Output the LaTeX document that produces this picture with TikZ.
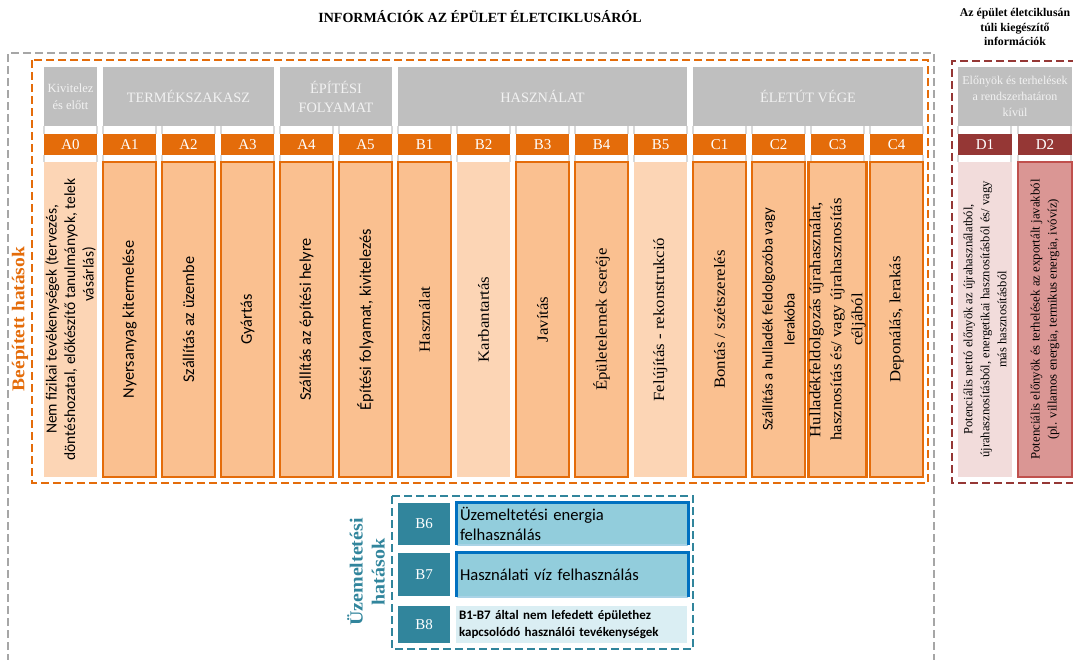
\documentclass[tikz,border=0pt]{standalone}
\usepackage{fontspec}
\setmainfont{Liberation Serif}
\newfontfamily\sansf{Carlito}
\newfontfamily\wideserif[FakeStretch=1.08]{Liberation Serif}
\definecolor{labor}{HTML}{E46C0A}
\definecolor{peachM}{HTML}{FAC090}
\definecolor{peachL}{HTML}{FCD5B5}
\definecolor{hdrgray}{HTML}{BFBFBF}
\definecolor{hdrtext}{HTML}{F2F2F2}
\definecolor{gridgray}{HTML}{D9D9D9}
\definecolor{maroon}{HTML}{953735}
\definecolor{roseL}{HTML}{F2DCDB}
\definecolor{roseM}{HTML}{DA9694}
\definecolor{roseB}{HTML}{C0504D}
\definecolor{tealD}{HTML}{31859C}
\definecolor{blueF}{HTML}{92CDDC}
\definecolor{blueB}{HTML}{0070C0}
\definecolor{blueEdge}{HTML}{A9D3E6}
\definecolor{blueL}{HTML}{DAEEF3}
\definecolor{dashgray}{HTML}{A6A6A6}
\begin{document}
\begin{tikzpicture}[x=1pt,y=-1pt,
  hdr/.style={fill=hdrgray, text=hdrtext, minimum height=59pt, inner sep=1pt, align=center},
  hdrbig/.style={hdr, font=\fontsize{14.3}{19}\selectfont},
  lab/.style={fill=labor, text=white, minimum width=53pt, minimum height=21pt, inner sep=0pt, font=\fontsize{15}{18}\selectfont},
  dlab/.style={lab, fill=maroon, minimum width=54pt},
  colbody/.style={rotate=90, minimum width=315pt, minimum height=53pt, inner sep=1pt, align=center},
  bodylight/.style={colbody, fill=peachL},
  bodyframed/.style={colbody, fill=peachM, draw=labor, line width=2.5pt},
  sanstxt/.style={font=\sansf\fontsize{16.3}{19}\selectfont},
  seriftxt/.style={font=\wideserif\fontsize{15.5}{21}\selectfont},
  frame/.style={dash pattern=on 8pt off 4pt, line width=2pt},
  gridtick/.style={gridgray, line width=1.2pt},
  oplab/.style={fill=tealD, text=white, minimum width=52pt, inner sep=0pt, font=\fontsize{15}{18}\selectfont},
  optext/.style={minimum width=231pt, text width=225pt, inner sep=3pt, align=left}
]
\useasboundingbox (0,0) rectangle (1073,659);

% titles
\node[font=\bfseries\fontsize{14}{17}\selectfont] (title) at (480,17) {INFORMÁCIÓK AZ ÉPÜLET ÉLETCIKLUSÁRÓL};
\node[font=\bfseries\fontsize{11.8}{14.5}\selectfont, align=center] (titleD) at (1015,27) {Az épület életciklusán\\túli kiegészítő\\információk};

% dashed frames
\draw[frame, dashgray, line width=1.6pt] (8,662) -- (8,53) -- (934,53) -- (934,662);
\draw[frame, labor] (32,60) rectangle (928,483);
\draw[frame, maroon] (1076,61) -- (952,61) -- (952,483) -- (1076,483);
\draw[frame, tealD] (392,496) rectangle (693,649);

% faint table grid between the rows
\foreach \xl in {44,103,162,221,280,339,398,457,516,575,634,693,752,811,870,958,1018} {
  \draw[gridtick] (\xl,126) -- (\xl,134) (\xl+53,126) -- (\xl+53,134);
  \draw[gridtick] (\xl,155) -- (\xl,162) (\xl+53,155) -- (\xl+53,162);
}

% side captions
\node[rotate=90, text=labor, font=\wideserif\bfseries\fontsize{18}{22}\selectfont] (capBuilt) at (20,319) {Beépített hatások};
\node[rotate=90, text=tealD, align=center, font=\wideserif\bfseries\fontsize{18.5}{22}\selectfont] (capOp) at (366,572) {Üzemeltetési\\hatások};

% stage headers
\node[hdr, minimum width=53pt, font=\fontsize{12.5}{17}\selectfont] (hA0) at (70.5,96.5) {Kivitelez\\és előtt};
\node[hdrbig, minimum width=171pt] (hProd) at (188.5,96.5) {TERMÉKSZAKASZ};
\node[hdrbig, minimum width=112pt] (hBuild) at (336,96.5) {ÉPÍTÉSI\\FOLYAMAT};
\node[hdrbig, minimum width=289pt] (hUse) at (542.5,96.5) {HASZNÁLAT};
\node[hdrbig, minimum width=230pt] (hEnd) at (808,96.5) {ÉLETÚT VÉGE};
\node[hdr, minimum width=114pt, font=\fontsize{12}{16}\selectfont] (hD) at (1015,96.5) {Előnyök és terhelések\\a rendszerhatáron\\kívül};

% module codes
\foreach \n [count=\i from 0] in {A0,A1,A2,A3,A4,A5,B1,B2,B3,B4,B5,C1,C2,C3,C4}
  \node[lab] (l\n) at ({70.5+59*\i},144.5) {\n};
\node[dlab] (lD1) at (985,144.5) {D1};
\node[dlab] (lD2) at (1045,144.5) {D2};

% module contents
\node[bodylight, font=\sansf\fontsize{15.5}{18.5}\selectfont] (bA0) at (70.5,319.5) {Nem fizikai tevékenységek (tervezés,\\döntéshozatal, előkészítő tanulmányok, telek\\\hspace*{90pt}vásárlás)};
\node[bodyframed, sanstxt] (bA1) at (129.5,319.5) {Nyersanyag kitermelése};
\node[bodyframed, sanstxt] (bA2) at (188.5,319.5) {Szállítás az üzembe};
\node[bodyframed, sanstxt] (bA3) at (247.5,319.5) {Gyártás};
\node[bodyframed, sanstxt] (bA4) at (306.5,319.5) {Szállítás az építési helyre};
\node[bodyframed, sanstxt] (bA5) at (365.5,319.5) {Építési folyamat, kivitelezés};
\node[bodyframed, seriftxt] (bB1) at (424.5,319.5) {Használat};
\node[bodylight, seriftxt] (bB2) at (483.5,319.5) {Karbantartás};
\node[bodyframed, seriftxt] (bB3) at (542.5,319.5) {Javítás};
\node[bodyframed, seriftxt] (bB4) at (601.5,319.5) {Épületelemek cseréje};
\node[bodylight, seriftxt] (bB5) at (660.5,319.5) {Felújítás - rekonstrukció};
\node[bodyframed, seriftxt] (bC1) at (719.5,319.5) {Bontás / szétszerelés};
\node[bodyframed, font=\sansf\fontsize{14.8}{22}\selectfont] (bC2) at (778.5,319.5) {Szállítás a hulladék feldolgozóba vagy\\lerakóba};
\node[bodyframed, seriftxt] (bC3) at (837.5,319.5) {Hulladékfeldolgozás újrahasználat,\\hasznosítás és/ vagy újrahasznosítás\\céljából};
\node[bodyframed, seriftxt] (bC4) at (896.5,319.5) {Deponálás, lerakás};
\node[colbody, minimum height=54pt, fill=roseL, font=\fontsize{12.6}{17}\selectfont] (bD1) at (985,319.5) {Potenciális nettó előnyök az újrahasználatból,\\újrahasznosításból, energetikai hasznosításból és/ vagy\\más hasznosításból};
\node[colbody, minimum height=54pt, fill=roseM, draw=roseB, line width=2.5pt, font=\fontsize{12.8}{17}\selectfont] (bD2) at (1045,319.5) {Potenciális előnyök és terhelések az exportált javakból\\(pl. villamos energia, termikus energia, ivóvíz)};

% operational modules
\node[oplab, minimum height=42pt] (lB6) at (424,524) {B6};
\node[oplab, minimum height=43pt] (lB7) at (424,574.5) {B7};
\node[oplab, minimum height=37pt] (lB8) at (424,624.5) {B8};
\node[optext, minimum height=42pt, fill=blueF, font=\sansf\fontsize{16.6}{20}\selectfont] (tB6) at (572.5,524) {Üzemeltetési energia\\felhasználás};
\node[optext, minimum height=44pt, fill=blueF, font=\sansf\fontsize{16.6}{20}\selectfont] (tB7) at (572.5,575) {Használati víz felhasználás};
\node[optext, minimum width=229pt, minimum height=37pt, fill=blueL, font=\sansf\bfseries\fontsize{13}{17}\selectfont] (tB8) at (571.5,624.5) {B1-B7 által nem lefedett épülethez\\kapcsolódó használói tevékenységek};
\foreach \b in {tB6,tB7} {
  \draw[blueEdge, line width=1.5pt] (\b.south west) -- (\b.south east);
  \draw[blueB, line width=3pt] (\b.south west) |- (\b.north east) -- (\b.south east);
}
\end{tikzpicture}
\end{document}
